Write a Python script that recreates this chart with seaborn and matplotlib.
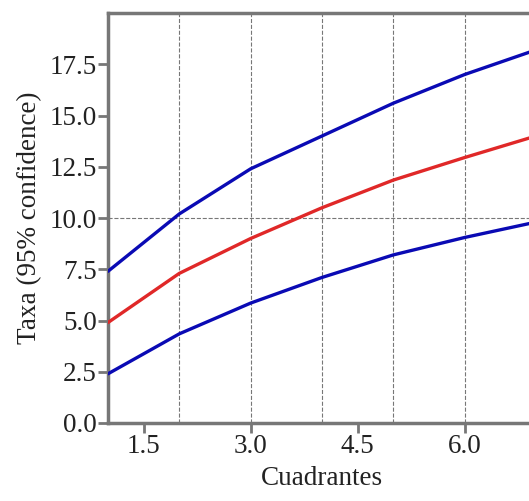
import matplotlib
matplotlib.use("Agg")
import matplotlib.pyplot as plt
import matplotlib.ticker as mticker
import seaborn as sns
import pandas as pd

# quadrants and fitted curves
cuadrantes = [1, 2, 3, 4, 5, 6, 7]
taxa_mean = [4.9, 7.3, 9.0, 10.5, 11.85, 12.95, 14.0]
taxa_upper = [7.4, 10.2, 12.4, 14.0, 15.6, 17.0, 18.2]
taxa_lower = [2.4, 4.35, 5.85, 7.1, 8.2, 9.05, 9.8]

x_ticks = [1.5, 3.0, 4.5, 6.0]
y_ticks = [0.0, 2.5, 5.0, 7.5, 10.0, 12.5, 15.0, 17.5]

sns.set_style("white")
plt.rcParams['font.family'] = ['Liberation Serif', 'DejaVu Serif']

df = pd.DataFrame({
    'x': cuadrantes * 3,
    'y': taxa_lower + taxa_mean + taxa_upper,
    'serie': ['lower'] * 7 + ['mean'] * 7 + ['upper'] * 7,
})

fig = plt.figure(figsize=(5.29, 5.01), dpi=100)
ax = fig.add_axes([108 / 529, 1 - 423 / 501, 428 / 529, 410 / 501])

palette = {'lower': '#0a0ab4', 'mean': '#e02828', 'upper': '#0a0ab4'}
sns.lineplot(data=df, x='x', y='y', hue='serie', palette=palette,
             linewidth=2.4, legend=False, ax=ax, zorder=3)

ax.set_xlim(1, 7)
ax.set_ylim(0, 20)
ax.set_xticks(x_ticks)
ax.set_yticks(y_ticks)
ax.xaxis.set_major_formatter(mticker.FormatStrFormatter('%.1f'))
ax.yaxis.set_major_formatter(mticker.FormatStrFormatter('%.1f'))

# dashed guides at integer quadrants and at y = 10
ax.xaxis.remove_overlapping_locs = False
ax.yaxis.remove_overlapping_locs = False
ax.xaxis.set_minor_locator(mticker.MultipleLocator(1))
ax.yaxis.set_minor_locator(mticker.MultipleLocator(10))
ax.grid(True, which='minor', linestyle='--', color='#777777', linewidth=0.8)
ax.grid(False, which='major')
ax.tick_params(which='minor', length=0)
ax.tick_params(which='major', direction='out', length=7, width=2,
               bottom=True, left=True,
               color='#777777', labelsize=19.5, labelcolor='#222222', pad=1)

for s in ax.spines.values():
    s.set_color('#777777')
    s.set_linewidth(2.5)

ax.set_xlabel('Cuadrantes', fontsize=19.5, color='#222222', labelpad=5)
ax.set_ylabel('Taxa (95% confidence)', fontsize=19.5, color='#222222', labelpad=5)

fig.savefig('out.png', dpi=100)
